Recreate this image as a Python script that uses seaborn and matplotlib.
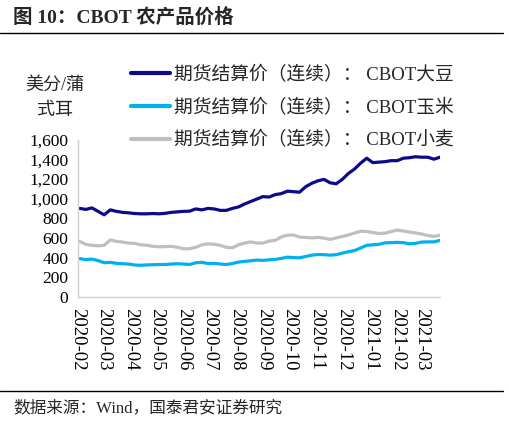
import numpy as np
import pandas as pd
import matplotlib
matplotlib.use("Agg")
import matplotlib.pyplot as plt
import matplotlib.dates as mdates
from matplotlib.lines import Line2D
from matplotlib.ticker import FuncFormatter, MultipleLocator
import seaborn as sns

# ---------------- data ----------------
start_date = "2020-02-03"
n_weeks = 60

soybean = [900, 890, 905, 870, 835, 885, 870, 860, 855, 848,
           845, 845, 848, 845, 850, 860, 865, 870, 872, 895,
           885, 900, 895, 880, 880, 900, 915, 945, 970, 995,
           1020, 1015, 1040, 1050, 1075, 1070, 1065, 1120, 1155, 1180,
           1195, 1160, 1150, 1195, 1255, 1300, 1360, 1410, 1365, 1370,
           1375, 1385, 1385, 1410, 1415, 1425, 1420, 1420, 1400, 1420]

corn = [390, 380, 385, 370, 348, 352, 342, 338, 335, 325,
        322, 326, 328, 330, 330, 335, 338, 335, 330, 348,
        352, 340, 342, 335, 330, 340, 355, 362, 368, 375,
        372, 378, 382, 392, 405, 400, 398, 412, 425, 432,
        430, 425, 430, 445, 460, 472, 498, 525, 530, 535,
        550, 552, 555, 552, 540, 545, 558, 560, 560, 575]

wheat = [565, 535, 525, 520, 525, 580, 565, 558, 548, 545,
         530, 525, 515, 510, 512, 515, 505, 490, 490, 505,
         530, 540, 535, 525, 505, 500, 530, 548, 560, 548,
         548, 568, 575, 610, 628, 630, 608, 605, 600, 605,
         598, 585, 600, 615, 630, 650, 668, 665, 655, 645,
         648, 665, 680, 670, 660, 650, 640, 625, 615, 628]

series_names = ["期货结算价（连续）： CBOT大豆",
                "期货结算价（连续）： CBOT玉米",
                "期货结算价（连续）： CBOT小麦"]
series_colors = ["#0A0A8A", "#00B0F0", "#BFBFBF"]

y_ticks = [0, 200, 400, 600, 800, 1000, 1200, 1400, 1600]
title_text = "图 10：CBOT 农产品价格"
ylabel_lines = ["美分/蒲", "式耳"]
source_text = "数据来源：Wind，国泰君安证券研究"

# ---------------- build table ----------------
dates = pd.date_range(start_date, periods=n_weeks, freq="7D")
df = pd.concat([
    pd.DataFrame({"date": dates, "value": vals, "series": name})
    for name, vals in zip(series_names, [soybean, corn, wheat])
], ignore_index=True)

# ---------------- style ----------------
sns.set_style("white")
CJK = ["Liberation Serif", "Noto Sans CJK SC"]
plt.rcParams["font.family"] = CJK
plt.rcParams["axes.unicode_minus"] = False

W, H = 510, 425
fig = plt.figure(figsize=(W / 100, H / 100), dpi=100)
ax = fig.add_axes([78 / W, 1 - 297 / H, (440 - 78) / W, (297 - 139.5) / H])

sns.lineplot(data=df, x="date", y="value", hue="series",
             palette=dict(zip(series_names, series_colors)),
             linewidth=2.3, ax=ax, legend=True)

ax.set_xlim(pd.Timestamp("2020-02-01"), dates[-1])
ax.set_ylim(y_ticks[0], y_ticks[-1])
ax.set_yticks(y_ticks)
ax.yaxis.set_major_formatter(FuncFormatter(lambda v, p: f"{v:,.0f}"))
ax.xaxis.set_major_locator(mdates.MonthLocator())
ax.xaxis.set_major_formatter(mdates.DateFormatter("%Y-%m"))
ax.set_xlabel("")
ax.set_ylabel("")

for s in ["top", "right"]:
    ax.spines[s].set_visible(False)
for s in ["left", "bottom"]:
    ax.spines[s].set_color("#D0D0D0")
    ax.spines[s].set_linewidth(1.0)

ax.tick_params(axis="both", which="major", direction="out", length=4,
               width=1.0, color="#D0D0D0", labelcolor="black")
ax.tick_params(axis="y", labelsize=12.5, pad=3)
ax.tick_params(axis="x", labelsize=13.5, pad=4)
for lab in ax.get_xticklabels():
    lab.set_rotation(-90)
    lab.set_ha("center")
    lab.set_va("top")
for lab in ax.get_yticklabels() + ax.get_xticklabels():
    lab.set_family("Liberation Serif")

# legend
handles, labels = ax.get_legend_handles_labels()
ax.legend_.remove()
leg = fig.legend(handles, labels, loc="upper left",
                 bbox_to_anchor=(131 / W, 1 - 66 / H),
                 frameon=False, prop={"family": CJK, "size": 13.5},
                 handlelength=2.1, handletextpad=0.2, labelspacing=0.78,
                 borderpad=0, borderaxespad=0)
for ln in leg.get_lines():
    ln.set_linewidth(3.0)

# title, labels, rules
fig.text(13 / W, 1 - 17 / H, title_text, ha="left", va="center",
         fontsize=14, fontweight="bold", family=CJK)
fig.add_artist(Line2D([0, 503 / W], [1 - 33 / H] * 2, color="black", lw=1.0))
fig.text(55 / W, 1 - 85 / H, ylabel_lines[0], ha="center", va="center",
         fontsize=13, family=CJK)
fig.text(55 / W, 1 - 110 / H, ylabel_lines[1], ha="center", va="center",
         fontsize=13, family=CJK)
fig.add_artist(Line2D([0, 503 / W], [1 - 391 / H] * 2, color="black", lw=1.0))
fig.text(13 / W, 1 - 408 / H, source_text, ha="left", va="center",
         fontsize=12, family=CJK)

fig.savefig("out.png", dpi=100)
